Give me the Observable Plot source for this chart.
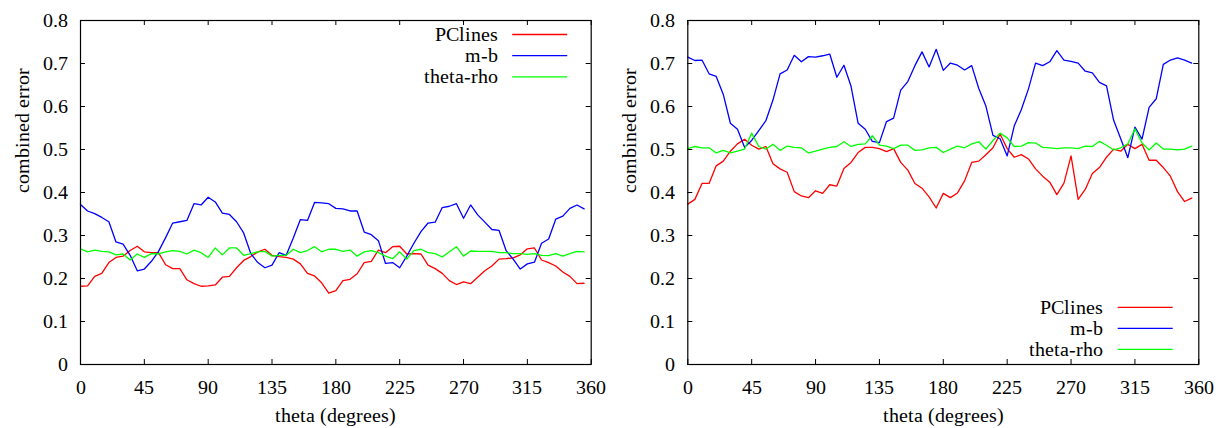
<!DOCTYPE html>
<html><head><meta charset="utf-8">
<script src="https://cdn.jsdelivr.net/npm/d3@7"></script>
<script src="https://cdn.jsdelivr.net/npm/@observablehq/plot@0.6"></script>
<style>
@font-face{font-family:"ChartSerif";src:local("Liberation Serif"),local("LiberationSerif"),local("LiberationSerif-Regular"),local("Liberation Serif Regular"),local("DejaVu Serif"),local("DejaVuSerif"),local("DejaVu Serif Book"),local("Tinos"),local("Nimbus Roman"),local("NimbusRoman-Regular"),local("FreeSerif"),local("Times New Roman");}
body{margin:0;background:#fff;}
#wrap{position:relative;width:1218px;height:428px;display:flex;}
#wrap svg{overflow:visible;}
#wrap svg text{font-family:"ChartSerif","Liberation Serif","DejaVu Serif",serif !important;}
</style></head><body><div id="wrap"></div>
<script>
const theta = [0,5,10,15,20,25,30,35,40,45,50,55,60,65,70,75,80,85,90,95,100,105,110,115,120,125,130,135,140,145,150,155,160,165,170,175,180,185,190,195,200,205,210,215,220,225,230,235,240,245,250,255,260,265,270,275,280,285,290,295,300,305,310,315,320,325,330,335,340,345,350,355];

const leftPClines = [0.182,0.183,0.205,0.212,0.237,0.249,0.252,0.265,0.275,0.262,0.26,0.26,0.232,0.223,0.223,0.197,0.188,0.182,0.183,0.185,0.203,0.205,0.225,0.242,0.251,0.262,0.268,0.254,0.251,0.249,0.245,0.234,0.212,0.206,0.19,0.166,
  0.172,0.195,0.198,0.211,0.237,0.240,0.266,0.260,0.274,0.275,0.257,0.258,0.257,0.231,0.223,0.212,0.195,0.186,0.192,0.188,0.203,0.218,0.229,0.245,0.246,0.248,0.255,0.269,0.271,0.243,0.237,0.229,0.215,0.205,0.188,0.189];
const leftMB = [0.372,0.357,0.351,0.342,0.332,0.285,0.280,0.254,0.218,0.222,0.240,0.263,0.295,0.329,0.332,0.335,0.374,0.371,0.389,0.378,0.352,0.349,0.332,0.306,0.258,0.237,0.225,0.231,0.26,0.254,0.294,0.337,0.335,0.377,0.376,0.374,
  0.363,0.362,0.357,0.357,0.308,0.302,0.288,0.235,0.237,0.225,0.252,0.282,0.309,0.329,0.331,0.365,0.368,0.374,0.34,0.371,0.348,0.331,0.314,0.312,0.265,0.245,0.222,0.234,0.238,0.282,0.292,0.338,0.345,0.363,0.371,0.362];
const leftThetaRho = [0.269,0.262,0.266,0.263,0.262,0.255,0.257,0.243,0.257,0.249,0.258,0.257,0.262,0.265,0.263,0.257,0.266,0.26,0.249,0.271,0.255,0.271,0.271,0.254,0.258,0.262,0.263,0.252,0.254,0.254,0.268,0.26,0.265,0.274,0.262,0.268,
  0.268,0.263,0.266,0.252,0.262,0.265,0.26,0.252,0.246,0.262,0.245,0.265,0.268,0.26,0.258,0.25,0.262,0.274,0.252,0.264,0.263,0.263,0.263,0.26,0.26,0.258,0.258,0.256,0.258,0.254,0.253,0.258,0.252,0.258,0.263,0.262];

const rightPClines = [0.373,0.384,0.421,0.421,0.462,0.473,0.496,0.513,0.524,0.510,0.501,0.507,0.467,0.455,0.447,0.402,0.392,0.388,0.404,0.398,0.418,0.415,0.456,0.470,0.493,0.505,0.505,0.502,0.495,0.502,0.470,0.452,0.421,0.410,0.390,0.364,
  0.398,0.388,0.399,0.427,0.470,0.473,0.488,0.504,0.536,0.502,0.482,0.488,0.478,0.455,0.438,0.424,0.395,0.422,0.485,0.384,0.407,0.444,0.458,0.482,0.501,0.496,0.512,0.502,0.512,0.475,0.475,0.458,0.438,0.402,0.379,0.387];
const rightMB = [0.715,0.707,0.708,0.676,0.670,0.628,0.561,0.547,0.505,0.521,0.544,0.567,0.615,0.676,0.685,0.719,0.704,0.716,0.715,0.718,0.722,0.668,0.696,0.647,0.561,0.547,0.519,0.516,0.565,0.573,0.638,0.658,0.695,0.727,0.692,0.733,
  0.684,0.701,0.696,0.685,0.695,0.642,0.601,0.533,0.525,0.485,0.555,0.593,0.641,0.701,0.695,0.704,0.730,0.708,0.705,0.701,0.682,0.678,0.656,0.648,0.568,0.525,0.481,0.552,0.524,0.598,0.618,0.698,0.708,0.713,0.708,0.701];
const rightThetaRho = [0.502,0.507,0.504,0.504,0.492,0.498,0.492,0.496,0.501,0.538,0.507,0.501,0.512,0.498,0.508,0.505,0.504,0.492,0.496,0.501,0.505,0.507,0.518,0.507,0.512,0.513,0.532,0.51,0.508,0.502,0.51,0.51,0.498,0.499,0.504,0.505,
  0.493,0.501,0.508,0.504,0.513,0.518,0.501,0.521,0.538,0.527,0.507,0.508,0.516,0.515,0.505,0.504,0.502,0.504,0.504,0.502,0.508,0.507,0.519,0.51,0.499,0.504,0.513,0.548,0.515,0.499,0.515,0.501,0.501,0.499,0.501,0.508];

const seriesNames = ["PClines", "m-b", "theta-rho"];
const seriesColors = ["#ff0000", "#0000ff", "#00ff00"];
const xTicks = [0,45,90,135,180,225,270,315,360];
const yTicks = [0,0.1,0.2,0.3,0.4,0.5,0.6,0.7,0.8];
const yTickLabels = ["0","0.1","0.2","0.3","0.4","0.5","0.6","0.7","0.8"];
const xLabel = "theta (degrees)";
const yLabel = "combined error";

function makeTable(arrays) {
  const rows = [];
  arrays.forEach((arr, s) => arr.forEach((v, i) => rows.push({theta: theta[i], value: v, series: seriesNames[s]})));
  return rows;
}

const FONT = "ChartSerif, Liberation Serif, DejaVu Serif, serif";

function chart(rows, ml, mr, legend) {
  const W = 609, H = 428, mt = 20, mb = 64;
  const innerW = W - ml - mr, innerH = H - mt - mb;
  const svg = Plot.plot({
    width: W, height: H,
    marginLeft: ml, marginRight: mr, marginTop: mt, marginBottom: mb,
    style: {fontFamily: FONT, fontSize: "20px", background: "white", color: "black", overflow: "visible"},
    x: {domain: [0, 360]},
    y: {domain: [0, 0.8]},
    color: {domain: seriesNames, range: seriesColors},
    marks: [
      Plot.lineY(rows, {x: "theta", y: "value", z: "series", stroke: "series", strokeWidth: 1.3}),
      Plot.tickX(xTicks, {x: d => d, insetTop: innerH - 5, stroke: "black"}),
      Plot.tickX(xTicks, {x: d => d, insetBottom: innerH - 5, stroke: "black"}),
      Plot.tickY(yTicks, {y: d => d, insetRight: innerW - 5, stroke: "black"}),
      Plot.tickY(yTicks, {y: d => d, insetLeft: innerW - 5, stroke: "black"}),
      Plot.axisX({ticks: xTicks, tickSize: 0, tickPadding: 15, fontSize: 20, label: null, tickFormat: d => String(d)}),
      Plot.axisY({ticks: yTicks, tickSize: 0, tickPadding: 13, fontSize: 20, label: null, tickFormat: d => yTickLabels[yTicks.indexOf(d)]}),
      Plot.text([xLabel], {frameAnchor: "bottom", dy: 51, text: d => d, lineAnchor: "middle", fontSize: 20}),
      Plot.text([yLabel], {frameAnchor: "left", dx: -58, rotate: -90, text: d => d, lineAnchor: "middle", fontSize: 20}),
      Plot.frame({stroke: "black", strokeWidth: 1.2})
    ]
  });
  const right = W - mr;
  const g = d3.select(svg).append("g").attr("font-size", 20);
  seriesNames.forEach((name, i) => {
    const y = legend.y0 + i * legend.step;
    g.append("text").attr("x", right - legend.textGap).attr("y", y).attr("dy", 6.5)
      .attr("text-anchor", "end").attr("fill", "black").text(name);
    g.append("line").attr("x1", right - legend.lineStart).attr("x2", right - legend.lineEnd)
      .attr("y1", y).attr("y2", y).attr("stroke", seriesColors[i]).attr("stroke-width", 1.3);
  });
  return svg;
}

const wrap = document.getElementById("wrap");
wrap.append(chart(makeTable([leftPClines, leftMB, leftThetaRho]), 80, 18.3,
  {y0: 34.5, step: 21.2, textGap: 93, lineStart: 78.5, lineEnd: 23.5}));
wrap.append(chart(makeTable([rightPClines, rightMB, rightThetaRho]), 78.3, 19.7,
  {y0: 307.3, step: 21, textGap: 95, lineStart: 80.6, lineEnd: 25.6}));
</script>
</body></html>
